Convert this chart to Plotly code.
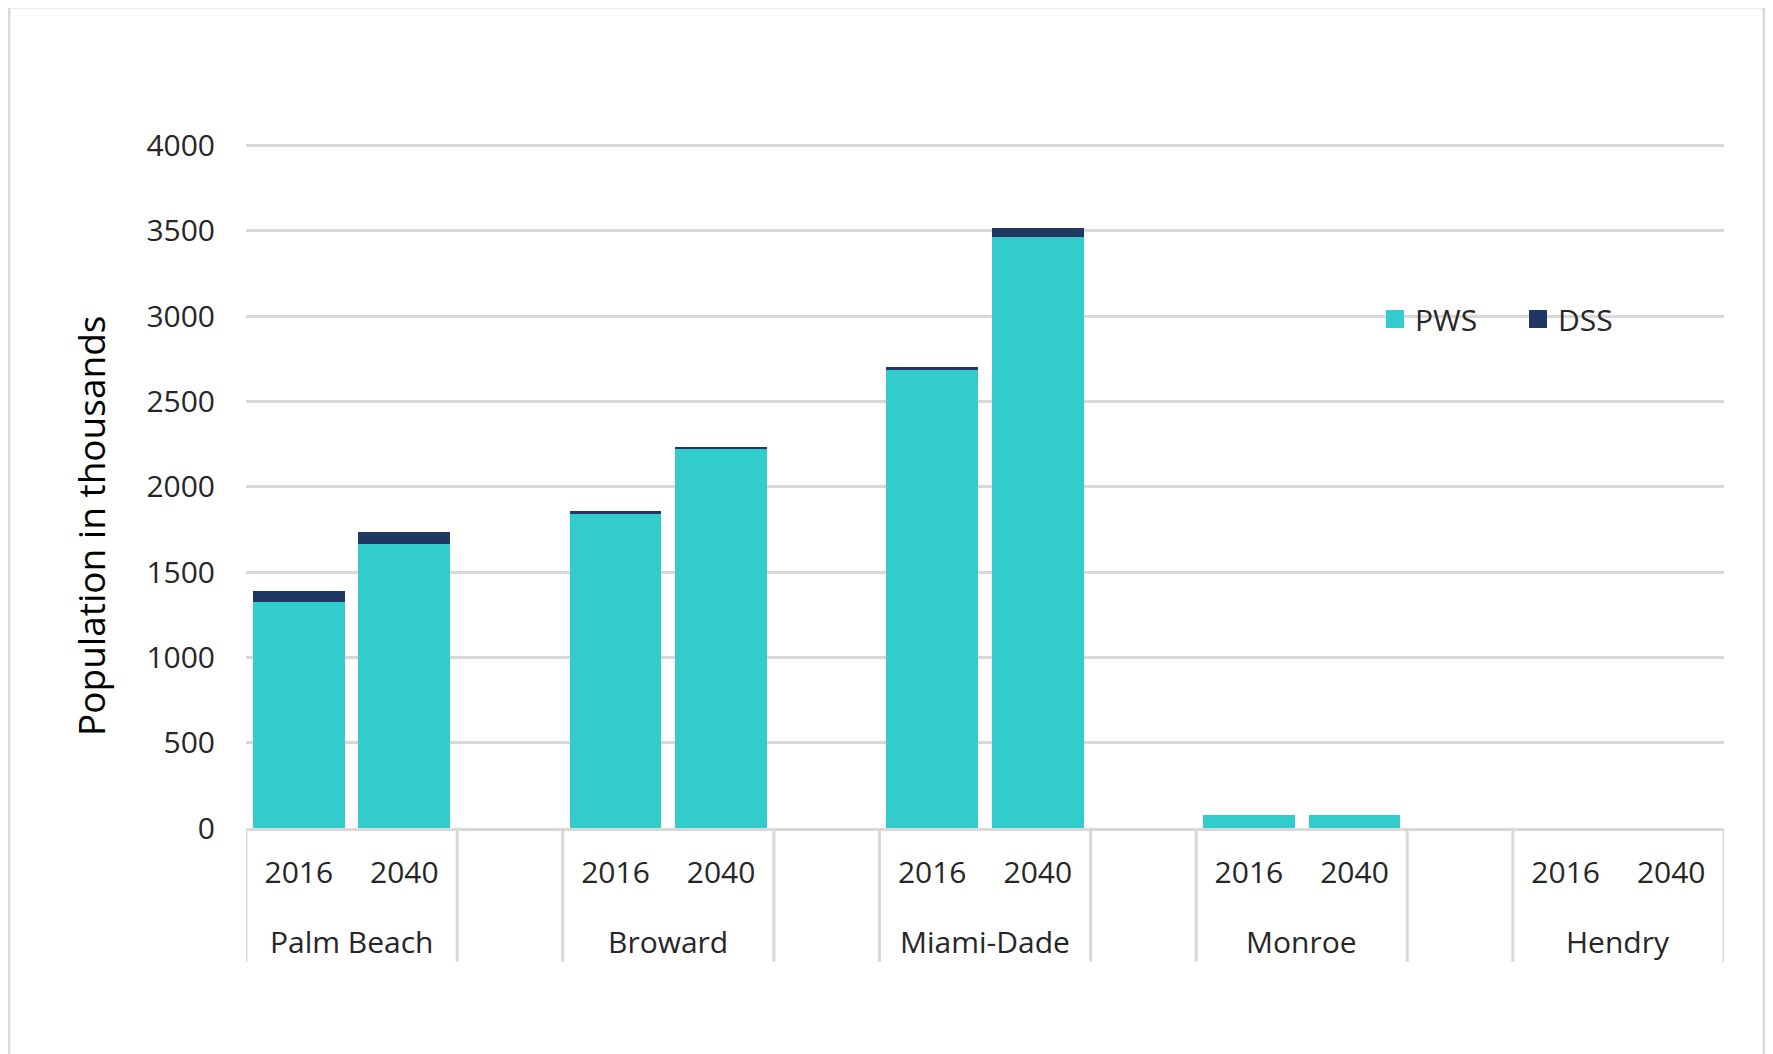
import plotly.graph_objects as go

counties = ["Palm Beach", "Broward", "Miami-Dade", "Monroe", "Hendry"]
years = ["2016", "2040"]
pws = {
    "Palm Beach": [1325, 1662],
    "Broward": [1845, 2225],
    "Miami-Dade": [2682, 3464],
    "Monroe": [75, 76],
    "Hendry": [0, 0],
}
dss = {
    "Palm Beach": [65, 73],
    "Broward": [10, 8],
    "Miami-Dade": [20, 50],
    "Monroe": [0, 0],
    "Hendry": [0, 0],
}
series_names = ["PWS", "DSS"]
series_colors = ["#33CCCC", "#203764"]

FONT = "Open Sans"
TXT = "#262626"
GRID = "#d9d9d9"

# slot layout: each county gets its years, followed by one empty slot
xs, ylab, pws_vals, dss_vals, centers, bounds = [], [], [], [], [], []
slot = 0
for ci, c in enumerate(counties):
    start = slot
    for yi, y in enumerate(years):
        xs.append(slot)
        ylab.append(y)
        pws_vals.append(pws[c][yi])
        dss_vals.append(dss[c][yi])
        slot += 1
    centers.append((start + slot - 1) / 2)
    bounds += [start - 0.5, slot - 0.5]
    if ci < len(counties) - 1:
        slot += 1
nslots = slot

fig = go.Figure()
for name, color, vals in zip(series_names, series_colors, [pws_vals, dss_vals]):
    fig.add_trace(go.Bar(x=xs, y=vals, name=name, showlegend=False,
                         legendgroup=name,
                         marker=dict(color=color, line=dict(width=0))))
# legend entries with larger square swatches
for name, color in zip(series_names, series_colors):
    fig.add_trace(go.Scatter(x=[None], y=[None], mode="markers", name=name,
                             legendgroup=name,
                             marker=dict(symbol="square", size=16, color=color,
                                         line=dict(color=color, width=2))))

# page has an 8px body margin: work in screen pixels, convert to figure
OFF = 8
W, H = 1773 - OFF, 1054 - OFF
PL, PR, PT, PB = 246, 1724, 142, 828   # plot area in screen px
L, T = PL - OFF, PT - OFF
pw, ph = PR - PL, PB - PT
R, B = W - L - pw, H - T - ph

def sx(p):
    return (p - PL) / pw

def sy(p):
    return (PB - p) / ph

fig.update_layout(
    width=W, height=H,
    barmode="stack", bargap=0.13,
    margin=dict(l=L, r=R, t=T, b=B, autoexpand=False),
    paper_bgcolor="white", plot_bgcolor="white",
    font=dict(family=FONT, size=30, color=TXT),
    legend=dict(orientation="h", x=sx(1375), y=sy(319),
                xanchor="left", yanchor="middle", traceorder="normal",
                font=dict(size=30, color=TXT), bgcolor="rgba(0,0,0,0)",
                itemsizing="trace",
                entrywidth=98, entrywidthmode="pixels"),
    showlegend=True,
)
fig.update_yaxes(range=[0, 4020], tickvals=[0, 500, 1000, 1500, 2000, 2500, 3000, 3500, 4000],
                 showgrid=True, gridcolor=GRID, gridwidth=3, zeroline=False, showline=False,
                 tickfont=dict(size=30, color=TXT), ticklabelstandoff=30)
fig.update_xaxes(range=[-0.5, nslots - 0.5], tickvals=xs, ticktext=ylab,
                 showline=True, linecolor=GRID, linewidth=3, showgrid=False,
                 zeroline=False, ticks="", tickfont=dict(size=30, color=TXT),
                 ticklabelstandoff=16)

# county labels (second category level)
for c, cx in zip(counties, centers):
    fig.add_annotation(x=cx, y=sy(941), xref="x", yref="paper", text=c,
                       showarrow=False, xanchor="center", yanchor="middle",
                       font=dict(size=30, color=TXT))

# category dividers
for bx in bounds:
    fig.add_shape(type="line", xref="x", yref="paper", x0=bx, x1=bx,
                  y0=0, y1=sy(962), line=dict(color=GRID, width=3))

# y axis title
fig.add_annotation(x=sx(90), y=sy(526), xref="paper", yref="paper",
                   text="Population in thousands", textangle=-90,
                   showarrow=False, xanchor="center", yanchor="middle",
                   font=dict(size=37, color="black"))

# outer chart border
fig.add_shape(type="rect", xref="paper", yref="paper",
              x0=sx(9), x1=sx(1764), y0=sy(1090), y1=sy(7),
              line=dict(color=GRID, width=3), fillcolor="rgba(0,0,0,0)", layer="below")

fig.write_html("out.html")
